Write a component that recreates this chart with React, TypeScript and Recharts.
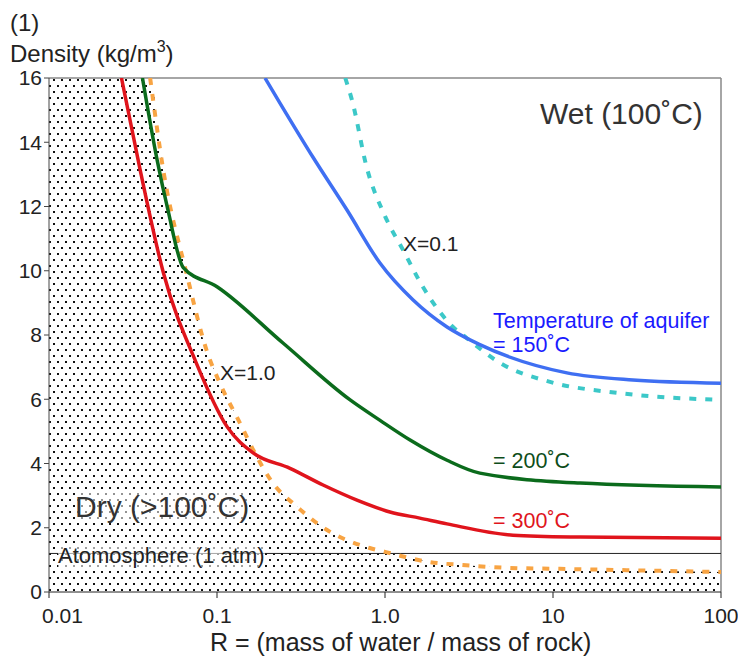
import React from 'react';
import {
  ComposedChart,
  Line,
  Area,
  XAxis,
  YAxis,
  ReferenceLine
} from 'recharts';

// R values (log axis) and densities
const xTicks = [0.01, 0.1, 1, 10, 100];
const yTicks = [0, 2, 4, 6, 8, 10, 12, 14, 16];

const dryX1 = [
  { x: 0.04, y: 16 }, { x: 0.048, y: 13.1 }, { x: 0.066, y: 9.9 }, { x: 0.087, y: 7.5 },
  { x: 0.104, y: 6.5 }, { x: 0.137, y: 5.26 }, { x: 0.173, y: 4.2 }, { x: 0.215, y: 3.39 },
  { x: 0.3, y: 2.65 }, { x: 0.43, y: 2.0 }, { x: 0.81, y: 1.37 }, { x: 1.0, y: 1.25 },
  { x: 1.85, y: 0.93 }, { x: 2.9, y: 0.84 }, { x: 5.5, y: 0.75 }, { x: 11, y: 0.72 },
  { x: 27.5, y: 0.68 }, { x: 100, y: 0.62 }
];

const wetX01 = [
  { x: 0.58, y: 16 }, { x: 0.637, y: 15.3 }, { x: 0.78, y: 13.2 }, { x: 1.0, y: 11.7 },
  { x: 1.28, y: 10.65 }, { x: 1.68, y: 9.5 }, { x: 2.54, y: 8.25 }, { x: 3.07, y: 7.9 },
  { x: 4.84, y: 7.13 }, { x: 9.6, y: 6.54 }, { x: 24, y: 6.2 }, { x: 100, y: 5.98 }
];

const t150 = [
  { x: 0.193, y: 16 }, { x: 0.237, y: 15.22 }, { x: 0.372, y: 13.54 }, { x: 0.594, y: 11.89 },
  { x: 0.933, y: 10.24 }, { x: 1.47, y: 9.09 }, { x: 2.34, y: 8.25 }, { x: 3.67, y: 7.7 },
  { x: 12.1, y: 6.82 }, { x: 29.9, y: 6.6 }, { x: 100, y: 6.5 }
];

const t200 = [
  { x: 0.036, y: 16 }, { x: 0.044, y: 13.45 }, { x: 0.051, y: 11.9 }, { x: 0.063, y: 10.1 },
  { x: 0.1, y: 9.5 }, { x: 0.247, y: 7.75 }, { x: 0.62, y: 5.98 }, { x: 0.93, y: 5.35 },
  { x: 1.41, y: 4.73 }, { x: 2.34, y: 4.1 }, { x: 3.67, y: 3.7 }, { x: 14.5, y: 3.39 },
  { x: 100, y: 3.27 }
];

const t300 = [
  { x: 0.027, y: 16 }, { x: 0.035, y: 13.1 }, { x: 0.048, y: 9.93 }, { x: 0.075, y: 7.15 },
  { x: 0.115, y: 5.14 }, { x: 0.164, y: 4.33 }, { x: 0.272, y: 3.85 }, { x: 0.428, y: 3.33 },
  { x: 0.681, y: 2.86 }, { x: 1.07, y: 2.49 }, { x: 1.61, y: 2.3 }, { x: 2.34, y: 2.12 },
  { x: 5.78, y: 1.77 }, { x: 14.5, y: 1.71 }, { x: 100, y: 1.67 }
];

const atmDensity = 1.2;

// dotted "dry" field: everything left of / under the X=1.0 curve
const dryArea = [{ x: 0.01, y: 16 }, ...dryX1];

const font = '"Liberation Sans", Arial, sans-serif';

const XTick = (props: any) => {
  const { x, y, payload } = props;
  const first = payload.value === 0.01;
  return (
    <text
      x={first ? x - 7 : x}
      y={y + 23}
      textAnchor={first ? 'start' : 'middle'}
      fontSize={21}
      fill="#222"
      fontFamily={font}
    >
      {payload.value === 1 ? '1.0' : payload.value}
    </text>
  );
};

const Label = ({ left, top, size, color = '#222', children, bg }: any) => (
  <div
    style={{
      position: 'absolute',
      left,
      top,
      fontSize: size,
      lineHeight: 1,
      color,
      fontFamily: font,
      whiteSpace: 'nowrap',
      background: bg
    }}
  >
    {children}
  </div>
);

export default function App() {
  return (
    <div style={{ position: 'absolute', left: 0, top: 0, width: 738, height: 657, background: '#fff' }}>
      <ComposedChart width={738} height={657} margin={{ top: 78, right: 17, bottom: 0, left: 0 }}>
        <defs>
          <pattern id="dots" width="8" height="12" patternUnits="userSpaceOnUse">
            <rect x="1" y="1" width="2" height="2" fill="#111" />
            <rect x="5" y="7" width="2" height="2" fill="#111" />
          </pattern>
        </defs>
        <XAxis
          type="number"
          dataKey="x"
          scale="log"
          domain={[0.01, 100]}
          ticks={xTicks}
          allowDataOverflow
          height={65}
          stroke="#222"
          tickSize={6}
          tick={<XTick />}
        />
        <YAxis
          type="number"
          dataKey="y"
          domain={[0, 16]}
          ticks={yTicks}
          allowDataOverflow
          width={49}
          stroke="#444"
          tickSize={5}
          tick={{ fontSize: 21, fill: '#222', fontFamily: font }}
        />
        <Area
          data={dryArea}
          dataKey="y"
          type="monotone"
          fill="url(#dots)"
          fillOpacity={1}
          stroke="none"
          baseValue={0}
          isAnimationActive={false}
        />
        <ReferenceLine y={16} stroke="#888" strokeWidth={1.5} />
        <ReferenceLine x={100} stroke="#888" strokeWidth={1.5} />
        <ReferenceLine y={atmDensity} stroke="#222" strokeWidth={1} />
        <Line data={dryX1} dataKey="y" type="monotone" stroke="#f8a443" strokeWidth={4}
          strokeDasharray="7 9" dot={false} isAnimationActive={false} />
        <Line data={wetX01} dataKey="y" type="monotone" stroke="#3cc8c8" strokeWidth={4}
          strokeDasharray="7 9" dot={false} isAnimationActive={false} />
        <Line data={t150} dataKey="y" type="monotone" stroke="#3f6ff2" strokeWidth={3.5}
          dot={false} isAnimationActive={false} />
        <Line data={t200} dataKey="y" type="monotone" stroke="#0b6b1c" strokeWidth={3.5}
          dot={false} isAnimationActive={false} />
        <Line data={t300} dataKey="y" type="monotone" stroke="#e0141c" strokeWidth={3.5}
          dot={false} isAnimationActive={false} />
      </ComposedChart>

      <Label left={10} top={11} size={24}>(1)</Label>
      <Label left={10} top={42} size={24}>
        Density (kg/m<sup style={{ fontSize: 16, verticalAlign: 'top', position: 'relative', top: -3 }}>3</sup>)
      </Label>
      <Label left={540} top={99} size={30} color="#333">Wet (100˚C)</Label>
      <Label left={403} top={233} size={21}>X=0.1</Label>
      <Label left={493} top={311} size={21.5} color="#1a1aff">Temperature of aquifer</Label>
      <Label left={493} top={335} size={21.5} color="#1a1aff">= 150˚C</Label>
      <Label left={220} top={362} size={21}>X=1.0</Label>
      <Label left={493} top={451} size={21.5} color="#0d4d1a">= 200˚C</Label>
      <Label left={493} top={511} size={21.5} color="#e0141c">= 300˚C</Label>
      <Label left={75} top={492} size={30} color="#333" bg="rgba(255,255,255,0.55)">Dry (&gt;100˚C)</Label>
      <Label left={58} top={545} size={22} bg="rgba(255,255,255,0.6)">Atomosphere (1 atm)</Label>
      <Label left={210} top={630} size={25}>R = (mass of water / mass of rock)</Label>
    </div>
  );
}
